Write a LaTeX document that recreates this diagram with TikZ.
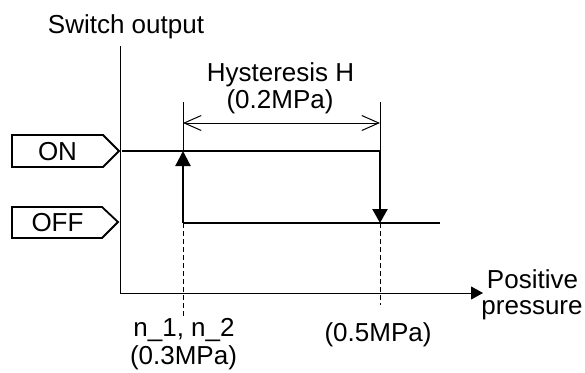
\documentclass[tikz,border=0pt]{standalone}
\usepackage{fontspec}
\setmainfont{Liberation Sans}
\usetikzlibrary{arrows.meta}
\begin{document}
\begin{tikzpicture}[x=1pt,y=-1pt,
  lbl/.style={anchor=base,inner sep=0pt,font=\fontsize{26}{27}\selectfont},
  thinline/.style={line width=1pt,black},
  sigline/.style={line width=2.2pt,black},
  boxline/.style={line width=1.8pt,black,line join=miter},
  dashline/.style={line width=1pt,dash pattern=on 5pt off 3pt}]
\useasboundingbox (0,0) rectangle (585,372);
% key coordinates
\coordinate (yTop) at (120,46);
\coordinate (orig) at (120,293);
\coordinate (xTip) at (483,293);
\coordinate (onStart) at (122,151);
\coordinate (aOn) at (183,151);
\coordinate (aOff) at (183,223);
\coordinate (bOn) at (380,151);
\coordinate (bOff) at (380,223);
\coordinate (offEnd) at (440,223);
\coordinate (aTop) at (183,102);
\coordinate (bTop) at (380,102);
\coordinate (hA) at (183,123);
\coordinate (hB) at (380,123);
\coordinate (aDash) at (183,316);
\coordinate (bDash) at (380,305);
% axes
\draw[thinline] (yTop) -- (orig);
\draw[thinline,-{Triangle[length=12pt,width=13pt]}] (orig) -- (xTip);
% ON / OFF tags
\draw[boxline] (12,135) -- (103,135) -- (119,151) -- (103,167) -- (12,167) -- cycle;
\draw[boxline] (12,207) -- (102,207) -- (118,222) -- (102,238) -- (12,238) -- cycle;
\node[lbl] (on) at (57.5,160.5) {ON};
\node[lbl] (off) at (57.5,231) {OFF};
% signal lines
\draw[sigline] (onStart) -- (bOn);
\draw[sigline] (aOff) -- (offEnd);
\draw[sigline,-{Triangle[length=15pt,width=15pt]}] (aOff) -- (aOn);
\draw[sigline,-{Triangle[length=14pt,width=15pt]}] (bOn) -- (bOff);
% hysteresis dimension
\draw[thinline] (aTop) -- (aOn);
\draw[thinline] (bTop) -- (bOn);
\draw[thinline,{Straight Barb[length=17pt,width=15pt]}-{Straight Barb[length=17pt,width=15pt]}] (hA) -- (hB);
% dashed guides
\draw[dashline] (aOff) -- (aDash);
\draw[dashline] (bOff) -- (bDash);
% texts
\node[lbl] (sw) at (126,33) {Switch output};
\node[lbl] (hys) at (280.5,81) {Hysteresis H};
\node[lbl] (hysv) at (280,108.3) {(0.2MPa)};
\node[lbl] (n12) at (184,336) {n\_1, n\_2};
\node[lbl] (n12v) at (183.5,364) {(0.3MPa)};
\node[lbl] (p5) at (378,341.7) {(0.5MPa)};
\node[lbl] (pos) at (532.5,288.3) {Positive};
\node[lbl] (pres) at (532,314.5) {pressure};
\end{tikzpicture}
\end{document}
